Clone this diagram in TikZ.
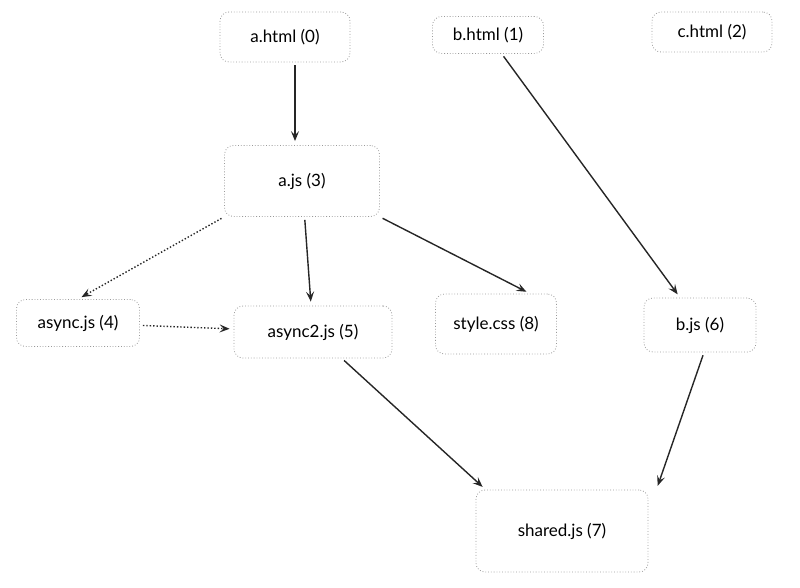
\documentclass[tikz,border=0pt]{standalone}
\usepackage{fontspec}
\setmainfont{Lato}
\usetikzlibrary{arrows.meta, positioning}
\tikzset{
    file/.style={draw=gray!80, dotted, line width=0.8pt, rounded corners=9pt, inner sep=0pt, font=\fontsize{17}{19}\selectfont}, % one box per module
    dep/.style={-{Stealth[length=10pt, width=8pt, inset=4pt]}, line width=1.4pt, black!85, shorten <=3pt, shorten >=4pt}, % static import
    lazy/.style={dep, dotted}, % dynamic import
    }

\begin{document}
\begin{tikzpicture}[x=1pt, y=-1pt]
        \useasboundingbox (0,0) rectangle (800,587);

        \node[file, minimum width=130pt, minimum height=50pt] (m0) at (285,37) {a.html (0)};
        \node[file, minimum width=111pt, minimum height=37pt] (m1) at (488,35) {b.html (1)};
        \node[file, minimum width=120pt, minimum height=40pt] (m2) at (712,32) {c.html (2)};
        \node[file, minimum width=155pt, minimum height=71pt] (m3) at (302,181) {a.js (3)};
        \node[file, minimum width=123pt, minimum height=47pt] (m4) at (78,323) {async.js (4)};
        \node[file, minimum width=158pt, minimum height=52pt] (m5) at (313,332) {async2.js (5)};
        \node[file, minimum width=121pt, minimum height=60pt] (m8) at (496,324) {style.css (8)};
        \node[file, minimum width=112pt, minimum height=54pt] (m6) at (700,325) {b.js (6)};
        \node[file, minimum width=172pt, minimum height=82pt] (m7) at (562,531) {shared.js (7)};

        \draw[dep] ([xshift=10pt]m0.south) -- (m3.north -| {(295,0)});
        \draw[dep] (m1) -- (m6);
        \draw[lazy] (m3.south west) -- (m4.north);
        \draw[dep] (m3) -- (m5);
        \draw[dep] (m3.south east) -- ([xshift=34pt]m8.north);
        \draw[lazy] (m4) -- (m5);
        \draw[dep] (m5) -- ([xshift=10pt]m7.north west);
        \draw[dep] ([xshift=4pt]m6.south) -- ([xshift=8pt]m7.north east);
    \end{tikzpicture}
\end{document}
